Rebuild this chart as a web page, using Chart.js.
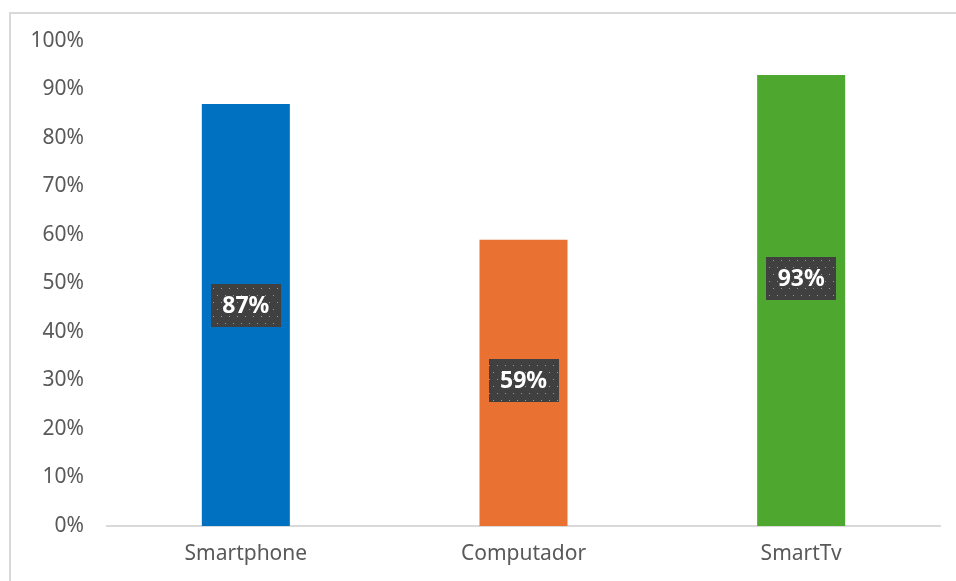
<!DOCTYPE html>
<html>
<head>
<meta charset="utf-8">
<script src="https://cdn.jsdelivr.net/npm/chart.js@4/dist/chart.umd.min.js"></script>
<style>
  html, body { margin: 0; padding: 0; background: #fff; overflow: hidden; }
  #frame { position: absolute; left: 9px; top: 12px; width: 1000px; height: 700px;
           border-left: 2px solid #d9d9d9; border-top: 2px solid #d9d9d9; }
  #wrap { position: absolute; left: 0; top: 0; width: 956px; height: 581px; }
</style>
</head>
<body>
<div id="frame"></div>
<div id="wrap"><canvas id="chart"></canvas></div>
<script>
const categories = ["Smartphone", "Computador", "SmartTv"];
const shares = [87, 59, 93];
const barColors = ["#0070C0", "#E97132", "#4EA72E"];
// where each value badge sits, in axis units
const labelAt = [45.5, 30, 51];

const FONT = "'Noto Sans', sans-serif";

// dark badge fill with a sparse dot pattern
function badgePattern(ctx) {
  const tile = document.createElement("canvas");
  tile.width = 8; tile.height = 14;
  const t = tile.getContext("2d");
  t.fillStyle = "#404040";
  t.fillRect(0, 0, 8, 14);
  t.fillStyle = "#9a9a9a";
  t.fillRect(1, 1, 1, 1);
  t.fillRect(5, 8, 1, 1);
  return ctx.createPattern(tile, "repeat");
}

const valueBadges = {
  id: "valueBadges",
  afterDatasetsDraw(chart) {
    const ctx = chart.ctx;
    const meta = chart.getDatasetMeta(0);
    const y = chart.scales.y;
    const pattern = badgePattern(ctx);
    ctx.save();
    ctx.font = "bold 23px " + FONT;
    ctx.textAlign = "center";
    ctx.textBaseline = "middle";
    meta.data.forEach((bar, i) => {
      const cy = y.getPixelForValue(labelAt[i]);
      const w = 70, h = 43;
      ctx.fillStyle = pattern;
      ctx.fillRect(Math.round(bar.x - w / 2), Math.round(cy - h / 2), w, h);
      ctx.fillStyle = "#ffffff";
      ctx.fillText(shares[i] + "%", bar.x, cy + 1);
    });
    ctx.restore();
  },
};

new Chart(document.getElementById("chart"), {
  type: "bar",
  data: {
    labels: categories,
    datasets: [{
      data: shares,
      backgroundColor: barColors,
      borderWidth: 0,
      categoryPercentage: 1,
      barPercentage: 0.317,
    }],
  },
  options: {
    responsive: true,
    maintainAspectRatio: false,
    animation: false,
    layout: { padding: { top: 41, right: 16, left: 0, bottom: 0 } },
    scales: {
      x: {
        grid: { display: false, drawTicks: false },
        border: { display: true, color: "#d9d9d9", width: 2 },
        ticks: { color: "#595959", font: { family: FONT, size: 21 }, padding: 15 },
        afterFit: (s) => { s.height = 55; },
      },
      y: {
        min: 0,
        max: 100,
        grid: { display: false, drawTicks: false },
        border: { display: false },
        ticks: {
          stepSize: 10,
          color: "#595959",
          font: { family: FONT, size: 21 },
          padding: 23,
          callback: (v) => v + "%",
        },
        afterFit: (s) => { s.width = 107; },
      },
    },
    plugins: { legend: { display: false }, tooltip: { enabled: false } },
  },
  plugins: [valueBadges],
});
</script>
</body>
</html>
